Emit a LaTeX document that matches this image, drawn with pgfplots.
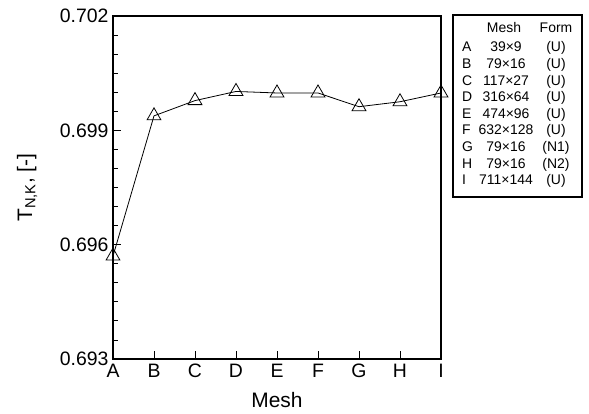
\documentclass[border=0pt]{standalone}
\usepackage{pgfplots}
\pgfplotsset{compat=1.18}
\usepackage{fontspec}
\setmainfont{Liberation Sans}
\begin{document}
\begin{tikzpicture}
\useasboundingbox (-113bp,-55bp) rectangle (476bp,359bp);
\begin{axis}[
  at={(0,0)}, anchor=south west,
  scale only axis, width=328bp, height=343bp,
  xmin=0, xmax=8, ymin=0.693, ymax=0.702,
  xtick={0,1,2,3,4,5,6,7,8},
  xticklabels={A,B,C,D,E,F,G,H,I},
  ytick={0.693,0.696,0.699,0.702},
  minor ytick={0.6935,0.694,0.6945,0.695,0.6955,0.6965,0.697,0.6975,0.698,0.6985,0.6995,0.700,0.7005,0.701,0.7015},
  tick align=inside,
  xtick pos=bottom, ytick pos=left,
  major tick length=8bp, minor tick length=5bp,
  axis line style={line width=1.3bp},
  tick style={line width=0.8bp, black},
  /pgf/number format/assume math mode=true,
  yticklabel style={/pgf/number format/fixed, /pgf/number format/precision=3, /pgf/number format/fixed zerofill, font=\fontsize{19.5}{20}\selectfont, xshift=-1bp},
  xticklabel style={font=\fontsize{19.5}{20}\selectfont, text height=14bp, text depth=0bp, yshift=-1bp},
  scaled y ticks=false,
  xlabel={Mesh},
  ylabel={T\textsubscript{N,K}, [-]},
  xlabel style={font=\fontsize{21}{22}\selectfont, at={(axis description cs:0.5,0)}, anchor=center, yshift=-41bp},
  ylabel style={font=\fontsize{21}{22}\selectfont, at={(axis description cs:-0.262,0.5)}, anchor=center},
  clip=false,
]
\addplot[black, line width=0.8bp, mark=triangle, mark size=8bp, mark options={fill=white, line width=0.8bp}]
coordinates {(0,0.6957) (1,0.69938) (2,0.69978) (3,0.70002) (4,0.69998) (5,0.69998) (6,0.69962) (7,0.69975) (8,0.69998)};
\end{axis}
\draw[line width=1.2bp] (340bp,162bp) rectangle (469bp,344bp);
\begin{scope}[every node/.style={font=\fontsize{14}{14}\selectfont, inner sep=0pt}]
\node[anchor=base] at (391bp,326bp) {Mesh};
\node[anchor=base] at (443bp,326bp) {Form};
\foreach \l/\m/\f [count=\i from 0] in {A/39×9/(U),B/79×16/(U),C/117×27/(U),D/316×64/(U),E/474×96/(U),F/632×128/(U),G/79×16/(N1),H/79×16/(N2),I/711×144/(U)}{
  \node[anchor=base west] at (349bp,{307bp-\i*16.6bp}) {\l};
  \node[anchor=base] at (393bp,{307bp-\i*16.6bp}) {\m};
  \node[anchor=base] at (443bp,{307bp-\i*16.6bp}) {\f};
}
\end{scope}
\end{tikzpicture}
\end{document}
